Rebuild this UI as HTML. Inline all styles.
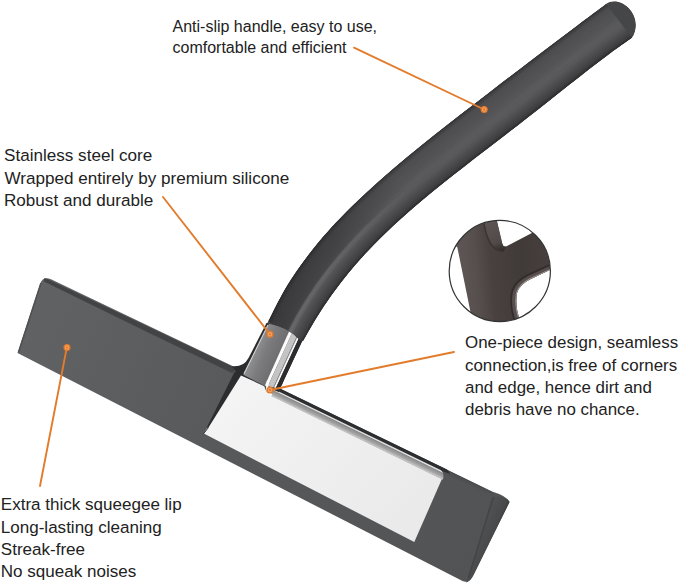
<!DOCTYPE html>
<html><head><meta charset="utf-8"><title>Squeegee</title>
<style>
html,body{margin:0;padding:0;background:#fff;}
body{width:679px;height:584px;overflow:hidden;}
svg{display:block}
text{font-family:"Liberation Sans",Arial,Helvetica,sans-serif;fill:#222;}
</style></head><body>
<svg width="679" height="584" viewBox="0 0 679 584">
<defs>
<linearGradient id="hg" gradientUnits="userSpaceOnUse" x1="470" y1="100" x2="505" y2="144">
<stop offset="0" stop-color="#3a3b3d"/><stop offset="0.35" stop-color="#4c4d4f"/><stop offset="0.7" stop-color="#454648"/><stop offset="1" stop-color="#353638"/>
</linearGradient>
<linearGradient id="plate" gradientUnits="userSpaceOnUse" x1="240" y1="380" x2="420" y2="540">
<stop offset="0" stop-color="#f4f4f4"/><stop offset="1" stop-color="#e9e9e9"/>
</linearGradient>
<linearGradient id="chrome" gradientUnits="userSpaceOnUse" x1="330" y1="416.4" x2="326.3" y2="424">
<stop offset="0" stop-color="#d9d9d9"/><stop offset="0.1" stop-color="#e4e4e4"/><stop offset="0.2" stop-color="#8a8a8a"/><stop offset="0.6" stop-color="#a6a6a6"/><stop offset="0.82" stop-color="#c6c6c6"/><stop offset="0.92" stop-color="#b0b0b0"/><stop offset="1" stop-color="#ececec"/>
</linearGradient>
<linearGradient id="core" gradientUnits="userSpaceOnUse" x1="250" y1="345" x2="280" y2="358">
<stop offset="0" stop-color="#9c9c9e"/><stop offset="0.5" stop-color="#7c7c7e"/><stop offset="1" stop-color="#6c6c6e"/>
</linearGradient>
<linearGradient id="rg" gradientUnits="userSpaceOnUse" x1="290" y1="330" x2="420" y2="180">
<stop offset="0" stop-color="#6a6b6d" stop-opacity="1"/><stop offset="0.6" stop-color="#646567" stop-opacity="0.8"/><stop offset="1" stop-color="#5a5b5d" stop-opacity="0"/>
</linearGradient>
<linearGradient id="shd" gradientUnits="userSpaceOnUse" x1="285" y1="320" x2="400" y2="180">
<stop offset="0" stop-color="#1c1c1e" stop-opacity="0.4"/><stop offset="0.5" stop-color="#1c1c1e" stop-opacity="0.28"/><stop offset="1" stop-color="#1c1c1e" stop-opacity="0"/>
</linearGradient>
<filter id="b1" x="-20%" y="-20%" width="140%" height="140%"><feGaussianBlur stdDeviation="0.8"/></filter>
<linearGradient id="ins" gradientUnits="userSpaceOnUse" x1="455" y1="270" x2="550" y2="262">
<stop offset="0" stop-color="#5f5856"/><stop offset="0.22" stop-color="#574f4d"/><stop offset="0.38" stop-color="#48413f"/><stop offset="0.7" stop-color="#403a38"/><stop offset="1" stop-color="#463f3e"/>
</linearGradient>
<linearGradient id="nb" gradientUnits="userSpaceOnUse" x1="490" y1="220" x2="500" y2="252">
<stop offset="0" stop-color="#5c5553"/><stop offset="0.7" stop-color="#514a48"/><stop offset="1" stop-color="#2f2928"/>
</linearGradient>
<clipPath id="bodyc"><path d="M457.3,247.2 L440,232 L470,208 L496,212 L497.2,222 L502.3,243.5 Q503.3,247.6 506.5,246.2 L530,234 L548,224.5 L562,240 L562,264.5 L550.3,269.8 L529.8,279.4 Q520,284.5 517.3,292 Q515.3,300 517.3,311 L521,326 L472,328 L470.8,313.6 Z"/></clipPath>
<filter id="b05" x="-20%" y="-20%" width="140%" height="140%"><feGaussianBlur stdDeviation="0.6"/></filter>
<linearGradient id="tr" gradientUnits="userSpaceOnUse" x1="470" y1="478.7" x2="467" y2="485.2">
<stop offset="0" stop-color="#3f4042"/><stop offset="0.5" stop-color="#4d4e50"/><stop offset="1" stop-color="#535456"/>
</linearGradient>
<linearGradient id="bl" gradientUnits="userSpaceOnUse" x1="20" y1="320" x2="490" y2="540">
<stop offset="0" stop-color="#616263"/><stop offset="0.45" stop-color="#58595b"/><stop offset="1" stop-color="#525355"/>
</linearGradient>
<linearGradient id="fc" gradientUnits="userSpaceOnUse" x1="482" y1="535" x2="494" y2="540">
<stop offset="0" stop-color="#4e4f51"/><stop offset="0.75" stop-color="#48494b"/><stop offset="1" stop-color="#38393b"/>
</linearGradient>
<clipPath id="blc"><path d="M51,279.3 L260,379.1 L492.0,491.5 Q507,496 509.5,502 L473.5,575 Q469,584 462.5,581 L17.5,353 L40.2,284 Q42.5,275.8 51,279.3 Z"/></clipPath>
<clipPath id="cc"><circle cx="499.8" cy="271" r="50.5"/></clipPath>
</defs>
<rect width="679" height="584" fill="#fff"/>
<!-- blade -->
<path d="M51,279.3 L260,379.1 L492.0,491.5 Q507,496 509.5,502 L473.5,575 Q469,584 462.5,581 L17.5,353 L40.2,284 Q42.5,275.8 51,279.3 Z" fill="url(#bl)"/>
<path d="M41,283 L18.5,352.5" stroke="#505153" stroke-width="1.6" fill="none"/>
<!-- top strip left -->
<path d="M44,277.5 L237,368.7 L232,373 L140,328.6 L44,281.5 Z" fill="#424345" clip-path="url(#blc)"/>
<!-- right end facet -->
<path d="M493,496.5 Q507,496 509.5,502 L473.5,575 Q470,582 466,582.5 Z" fill="url(#fc)"/>
<path d="M493.2,497 L468.5,578" stroke="#434446" stroke-width="1.4" fill="none"/>
<!-- dark strip right of handle -->
<path d="M440,466.5 L492,491.7 L494,497.5 L440,473.0 Z" fill="url(#tr)"/>
<path d="M279.5,388.2 L447,469.4 L450,473.8 L443,471.5 L279.5,392.3 Z" fill="#2d2e30"/>
<!-- plate -->
<path d="M240.2,375 L264.4,385.5 Q264.6,390.5 269.6,394.7 L440.7,478.2 L442,478.8 L414.3,542 L203.8,433.6 Z" fill="url(#plate)"/>
<!-- chrome strip along blade -->
<path d="M270,387.3 L441,470.2 Q444.8,473.4 442.8,479.7 L269.6,395.2 Z" fill="url(#chrome)"/>
<!-- crease -->
<path d="M233.3,374.5 Q234.5,370.5 238,371.5 L241,375.6 L208.5,427.5 L206.5,428 Z" fill="#2c2d2f"/>
<path d="M208.5,427.5 L203.2,434.2" stroke="#3a3b3d" stroke-width="1" fill="none"/>
<!-- joint backing (dark walls) -->
<path d="M266.5,323 L248.5,358 Q243.5,367.5 232,366.2 L238,374 L266,387 L279.5,392.3 L279.5,388.2 Q282.5,385 284.0,380 L302.2,341 L303.1,341.3 L290,320 Z" fill="#2b2c2e"/>
<!-- gray core -->
<path d="M272.3,317 L296,328 L266.5,387 L243.3,374.8 Z" fill="url(#core)"/>
<path d="M268,325 L244,373.8" stroke="#d4d4d4" stroke-width="1.1" fill="none"/>
<!-- chrome band on handle: stripes -->
<path d="M293.3,322.0 L296.9,322.0 L267.9,386.2 L264.9,385.5 Z" fill="#fcfcfc"/>
<path d="M296.9,322.0 L303.4,322.0 L273.4,387.5 L267.9,386.2 Z" fill="#c4c4c4"/>
<path d="M303.4,322.0 L304.2,322.0 L274.0,387.6 L273.4,387.5 Z" fill="#9a9a9a"/>
<path d="M304.2,322.0 L306.4,322.0 L275.9,388.1 L274.0,387.6 Z" fill="#f7f7f7"/>
<path d="M306.4,322.0 L311.1,322.0 L279.8,389.0 L275.9,388.1 Z" fill="#2b2c2e"/>
<path d="M268.2,381 Q265,390.5 271.5,395.6" stroke="#fbfbfb" stroke-width="2.6" fill="none"/>
<!-- handle sleeve -->
<clipPath id="sl"><path d="M268.2,321.2 C271.1,315.6 279.4,298.4 285.7,287.7 C292.1,277.1 299.0,267.1 306.3,257.5 C313.5,247.8 321.2,238.7 329.2,229.8 C337.1,220.9 345.5,212.4 354.0,204.1 C362.5,195.8 371.2,187.8 380.1,179.9 C389.0,172.0 398.1,164.4 407.3,156.7 C416.4,149.1 425.7,141.7 435.1,134.3 C444.4,126.9 453.8,119.5 463.2,112.2 C472.7,104.9 482.1,97.7 491.6,90.4 C501.1,83.1 510.6,75.9 520.1,68.7 C529.6,61.4 539.1,54.2 548.6,47.0 C558.1,39.8 567.6,32.5 577.2,25.4 C586.8,18.2 601.2,7.5 606.0,4.0 C620,-6 645,15 632.2,37.8 C628.6,40.4 617.6,48.0 610.5,53.2 C603.4,58.4 596.4,63.8 589.4,69.2 C582.4,74.6 575.6,80.1 568.6,85.5 C561.7,91.0 554.8,96.4 547.9,101.9 C541.0,107.4 534.1,112.8 527.1,118.2 C520.2,123.6 513.2,129.0 506.2,134.4 C499.3,139.8 492.3,145.2 485.3,150.6 C478.3,156.0 471.3,161.3 464.4,166.8 C457.4,172.2 450.5,177.6 443.6,183.1 C436.7,188.6 429.9,194.1 423.1,199.8 C416.4,205.4 409.7,211.1 403.2,217.0 C396.6,222.8 390.2,228.8 383.9,234.9 C377.6,241.1 371.5,247.3 365.5,253.8 C359.5,260.3 353.7,266.9 348.1,273.8 C342.5,280.6 337.1,287.7 331.9,295.0 C326.7,302.3 321.7,309.8 316.9,317.5 C312.1,325.2 305.4,337.4 303.1,341.3 L300,340.5 Q288,326.5 268.5,324 Q266.5,323.5 268.2,321.2 Z"/></clipPath>
<g clip-path="url(#sl)">
<path d="M268.2,321.2 C271.1,315.6 279.4,298.4 285.7,287.7 C292.1,277.1 299.0,267.1 306.3,257.5 C313.5,247.8 321.2,238.7 329.2,229.8 C337.1,220.9 345.5,212.4 354.0,204.1 C362.5,195.8 371.2,187.8 380.1,179.9 C389.0,172.0 398.1,164.4 407.3,156.7 C416.4,149.1 425.7,141.7 435.1,134.3 C444.4,126.9 453.8,119.5 463.2,112.2 C472.7,104.9 482.1,97.7 491.6,90.4 C501.1,83.1 510.6,75.9 520.1,68.7 C529.6,61.4 539.1,54.2 548.6,47.0 C558.1,39.8 567.6,32.5 577.2,25.4 C586.8,18.2 601.2,7.5 606.0,4.0 C620,-6 645,15 632.2,37.8 C628.6,40.4 617.6,48.0 610.5,53.2 C603.4,58.4 596.4,63.8 589.4,69.2 C582.4,74.6 575.6,80.1 568.6,85.5 C561.7,91.0 554.8,96.4 547.9,101.9 C541.0,107.4 534.1,112.8 527.1,118.2 C520.2,123.6 513.2,129.0 506.2,134.4 C499.3,139.8 492.3,145.2 485.3,150.6 C478.3,156.0 471.3,161.3 464.4,166.8 C457.4,172.2 450.5,177.6 443.6,183.1 C436.7,188.6 429.9,194.1 423.1,199.8 C416.4,205.4 409.7,211.1 403.2,217.0 C396.6,222.8 390.2,228.8 383.9,234.9 C377.6,241.1 371.5,247.3 365.5,253.8 C359.5,260.3 353.7,266.9 348.1,273.8 C342.5,280.6 337.1,287.7 331.9,295.0 C326.7,302.3 321.7,309.8 316.9,317.5 C312.1,325.2 305.4,337.4 303.1,341.3 L300,340.5 Q288,326.5 268.5,324 Q266.5,323.5 268.2,321.2 Z" fill="#454648"/>
<path d="M268.2,321.2 L276.9,303.4 L286.5,286.5 L296.9,270.5 L308.0,255.2 L319.8,240.6 L332.1,226.6 L344.9,213.2 L358.1,200.2 L371.6,187.5 L385.5,175.2 L399.6,163.1 L413.9,151.3 L428.3,139.6 L442.9,128.1 L457.6,116.6 L472.3,105.2 L487.1,93.9 L501.9,82.6 L516.7,71.3 L531.5,60.0 L546.3,48.7 L561.2,37.5 L576.1,26.2 L591.0,15.1 L606.0,4.0 L607.3,5.7 L592.3,16.7 L577.4,27.9 L562.5,39.1 L547.7,50.3 L532.9,61.6 L518.1,72.9 L503.4,84.2 L488.6,95.5 L473.9,106.8 L459.2,118.2 L444.5,129.6 L430.0,141.1 L415.5,152.8 L401.3,164.6 L387.2,176.6 L373.3,188.9 L359.8,201.5 L346.6,214.5 L333.8,227.9 L321.5,241.9 L309.8,256.4 L298.7,271.6 L288.3,287.6 L278.7,304.4 L270.0,322.2Z" fill="#38383a"/>
<path d="M269.8,322.1 L278.5,304.4 L288.1,287.5 L298.5,271.5 L309.6,256.3 L321.4,241.8 L333.7,227.8 L346.5,214.4 L359.6,201.4 L373.2,188.8 L387.0,176.5 L401.1,164.5 L415.4,152.6 L429.8,141.0 L444.4,129.5 L459.0,118.0 L473.7,106.7 L488.5,95.3 L503.2,84.0 L518.0,72.7 L532.8,61.5 L547.6,50.2 L562.4,39.0 L577.3,27.7 L592.2,16.6 L607.2,5.5 L608.6,7.4 L593.6,18.4 L578.7,29.5 L563.9,40.7 L549.1,51.9 L534.4,63.2 L519.6,74.5 L504.9,85.7 L490.1,97.0 L475.4,108.3 L460.8,119.7 L446.1,131.1 L431.6,142.6 L417.2,154.2 L402.9,166.0 L388.8,178.0 L375.0,190.3 L361.5,202.8 L348.3,215.8 L335.6,229.2 L323.3,243.1 L311.6,257.6 L300.5,272.8 L290.1,288.8 L280.4,305.5 L271.7,323.2Z" fill="#434345"/>
<path d="M271.6,323.2 L280.3,305.4 L289.9,288.7 L300.3,272.7 L311.4,257.5 L323.1,243.0 L335.4,229.1 L348.2,215.7 L361.4,202.7 L374.9,190.2 L388.7,177.9 L402.8,165.9 L417.1,154.1 L431.5,142.5 L446.0,131.0 L460.6,119.6 L475.3,108.2 L490.0,96.9 L504.8,85.6 L519.5,74.3 L534.3,63.1 L549.0,51.8 L563.8,40.6 L578.6,29.4 L593.5,18.3 L608.5,7.2 L609.9,9.1 L594.9,20.0 L580.1,31.1 L565.3,42.3 L550.5,53.5 L535.8,64.8 L521.1,76.1 L506.4,87.3 L491.7,98.6 L477.0,109.9 L462.4,121.2 L447.8,132.6 L433.2,144.1 L418.8,155.7 L404.6,167.4 L390.5,179.4 L376.7,191.6 L363.2,204.2 L350.0,217.1 L337.3,230.5 L325.0,244.4 L313.3,258.9 L302.2,274.0 L291.8,289.9 L282.2,306.6 L273.4,324.2Z" fill="#4d4d4f"/>
<path d="M273.3,324.2 L282.1,306.5 L291.7,289.8 L302.1,273.9 L313.2,258.8 L324.9,244.3 L337.2,230.4 L349.9,217.0 L363.1,204.1 L376.6,191.5 L390.4,179.3 L404.5,167.3 L418.7,155.6 L433.1,144.0 L447.6,132.5 L462.2,121.1 L476.9,109.8 L491.6,98.5 L506.3,87.2 L521.0,75.9 L535.7,64.7 L550.4,53.4 L565.2,42.2 L580.0,31.0 L594.8,19.9 L609.8,8.9 L611.2,10.7 L596.3,21.7 L581.4,32.8 L566.7,43.9 L551.9,55.2 L537.3,66.4 L522.6,77.7 L507.9,88.9 L493.2,100.2 L478.6,111.5 L464.0,122.8 L449.4,134.1 L434.9,145.6 L420.5,157.1 L406.3,168.9 L392.2,180.8 L378.4,193.0 L364.9,205.5 L351.8,218.4 L339.0,231.8 L326.8,245.6 L315.1,260.1 L304.0,275.2 L293.6,291.0 L284.0,307.7 L275.2,325.2Z" fill="#4f4f51"/>
<path d="M275.0,325.2 L283.8,307.6 L293.5,290.9 L303.9,275.1 L315.0,260.0 L326.7,245.5 L338.9,231.7 L351.6,218.3 L364.8,205.4 L378.3,192.9 L392.1,180.7 L406.1,168.7 L420.4,157.0 L434.7,145.4 L449.2,134.0 L463.8,122.6 L478.5,111.3 L493.1,100.1 L507.8,88.8 L522.5,77.5 L537.1,66.3 L551.8,55.0 L566.5,43.8 L581.3,32.6 L596.2,21.6 L611.1,10.6 L612.5,12.4 L597.6,23.4 L582.8,34.4 L568.0,45.6 L553.3,56.8 L538.7,68.0 L524.1,79.3 L509.4,90.5 L494.8,101.8 L480.2,113.0 L465.6,124.3 L451.0,135.6 L436.5,147.1 L422.1,158.6 L407.9,170.3 L393.9,182.2 L380.1,194.4 L366.6,206.9 L353.5,219.7 L340.8,233.0 L328.6,246.9 L316.9,261.3 L305.8,276.4 L295.4,292.2 L285.8,308.8 L276.9,326.2Z" fill="#505052"/>
<path d="M276.8,326.2 L285.6,308.7 L295.3,292.1 L305.7,276.3 L316.7,261.2 L328.4,246.8 L340.7,232.9 L353.4,219.6 L366.5,206.7 L380.0,194.3 L393.8,182.1 L407.8,170.2 L422.0,158.5 L436.4,146.9 L450.9,135.5 L465.4,124.2 L480.0,112.9 L494.7,101.6 L509.3,90.4 L523.9,79.1 L538.6,67.9 L553.2,56.6 L567.9,45.4 L582.6,34.3 L597.5,23.2 L612.4,12.3 L613.8,14.1 L598.9,25.0 L584.1,36.0 L569.4,47.2 L554.8,58.4 L540.1,69.6 L525.5,80.8 L510.9,92.1 L496.3,103.3 L481.7,114.6 L467.1,125.8 L452.6,137.2 L438.1,148.5 L423.8,160.0 L409.6,171.7 L395.6,183.6 L381.8,195.7 L368.3,208.2 L355.2,221.0 L342.5,234.3 L330.3,248.1 L318.6,262.5 L307.6,277.5 L297.2,293.3 L287.5,309.8 L278.7,327.3Z" fill="#525254"/>
<path d="M278.5,327.2 L287.4,309.8 L297.0,293.2 L307.4,277.5 L318.5,262.4 L330.2,248.0 L342.4,234.2 L355.1,220.9 L368.2,208.1 L381.7,195.6 L395.4,183.5 L409.4,171.6 L423.7,159.9 L438.0,148.4 L452.5,137.0 L467.0,125.7 L481.6,114.4 L496.2,103.2 L510.8,92.0 L525.4,80.7 L540.0,69.5 L554.6,58.2 L569.3,47.0 L584.0,35.9 L598.8,24.9 L613.7,14.0 L615.2,15.8 L600.2,26.7 L585.4,37.7 L570.8,48.8 L556.2,60.0 L541.6,71.2 L527.0,82.4 L512.4,93.7 L497.9,104.9 L483.3,116.1 L468.7,127.4 L454.2,138.7 L439.8,150.0 L425.4,161.5 L411.2,173.1 L397.3,185.0 L383.5,197.1 L370.0,209.5 L357.0,222.3 L344.3,235.6 L332.1,249.4 L320.4,263.7 L309.4,278.7 L299.0,294.4 L289.3,310.9 L280.4,328.3Z" fill="#535355"/>
<path d="M280.3,328.2 L289.2,310.8 L298.8,294.3 L309.2,278.6 L320.3,263.6 L331.9,249.3 L344.1,235.5 L356.8,222.2 L369.9,209.4 L383.4,197.0 L397.1,184.9 L411.1,173.0 L425.3,161.4 L439.6,149.9 L454.1,138.5 L468.6,127.3 L483.2,116.0 L497.7,104.8 L512.3,93.6 L526.9,82.3 L541.5,71.1 L556.0,59.9 L570.7,48.7 L585.3,37.5 L600.1,26.5 L615.1,15.7 L616.5,17.5 L601.5,28.3 L586.8,39.3 L572.1,50.4 L557.6,61.6 L543.0,72.8 L528.5,84.0 L514.0,95.3 L499.4,106.5 L484.9,117.7 L470.3,128.9 L455.8,140.2 L441.4,151.5 L427.1,163.0 L412.9,174.6 L398.9,186.4 L385.2,198.5 L371.8,210.9 L358.7,223.7 L346.0,236.9 L333.8,250.6 L322.2,264.9 L311.1,279.9 L300.8,295.6 L291.1,312.0 L282.2,329.3Z" fill="#545456"/>
<path d="M282.0,329.2 L290.9,311.9 L300.6,295.5 L311.0,279.8 L322.0,264.9 L333.7,250.5 L345.9,236.8 L358.5,223.5 L371.6,210.8 L385.1,198.4 L398.8,186.3 L412.8,174.5 L427.0,162.8 L441.3,151.4 L455.7,140.1 L470.2,128.8 L484.7,117.6 L499.3,106.4 L513.8,95.1 L528.4,83.9 L542.9,72.7 L557.5,61.5 L572.0,50.3 L586.7,39.2 L601.4,28.2 L616.4,17.4 L617.8,19.2 L602.9,30.0 L588.1,40.9 L573.5,52.0 L559.0,63.2 L544.5,74.4 L530.0,85.6 L515.5,96.9 L501.0,108.1 L486.4,119.2 L471.9,130.5 L457.5,141.7 L443.0,153.0 L428.7,164.4 L414.6,176.0 L400.6,187.8 L386.9,199.8 L373.5,212.2 L360.4,225.0 L347.8,238.2 L335.6,251.9 L324.0,266.2 L312.9,281.1 L302.5,296.7 L292.8,313.1 L283.9,330.3Z" fill="#565658"/>
<path d="M283.8,330.2 L292.7,313.0 L302.4,296.6 L312.8,281.0 L323.8,266.1 L335.5,251.8 L347.6,238.1 L360.3,224.9 L373.3,212.1 L386.8,199.7 L400.5,187.7 L414.4,175.9 L428.6,164.3 L442.9,152.9 L457.3,141.6 L471.8,130.3 L486.3,119.1 L500.8,107.9 L515.4,96.7 L529.9,85.5 L544.4,74.3 L558.9,63.1 L573.4,51.9 L588.0,40.8 L602.7,29.8 L617.7,19.1 L619.1,20.9 L604.2,31.6 L589.5,42.6 L574.9,53.7 L560.4,64.8 L545.9,76.0 L531.5,87.2 L517.0,98.4 L502.5,109.6 L488.0,120.8 L473.5,132.0 L459.1,143.2 L444.7,154.5 L430.4,165.9 L416.2,177.4 L402.3,189.2 L388.6,201.2 L375.2,213.5 L362.1,226.3 L349.5,239.4 L337.4,253.1 L325.7,267.4 L314.7,282.3 L304.3,297.9 L294.6,314.2 L285.7,331.3Z" fill="#58585a"/>
<path d="M285.5,331.2 L294.5,314.1 L304.2,297.8 L314.6,282.2 L325.6,267.3 L337.2,253.0 L349.4,239.3 L362.0,226.2 L375.0,213.4 L388.4,201.1 L402.2,189.1 L416.1,177.3 L430.3,165.8 L444.6,154.4 L458.9,143.1 L473.4,131.9 L487.9,120.7 L502.4,109.5 L516.9,98.3 L531.3,87.1 L545.8,75.9 L560.3,64.7 L574.8,53.5 L589.4,42.4 L604.1,31.5 L619.0,20.8 L620.4,22.6 L605.5,33.3 L590.8,44.2 L576.3,55.3 L561.8,66.4 L547.4,77.6 L532.9,88.8 L518.5,100.0 L504.1,111.2 L489.6,122.4 L475.1,133.5 L460.7,144.7 L446.3,156.0 L432.0,167.3 L417.9,178.9 L404.0,190.6 L390.3,202.6 L376.9,214.9 L363.9,227.6 L351.2,240.7 L339.1,254.4 L327.5,268.6 L316.5,283.5 L306.1,299.0 L296.4,315.2 L287.4,332.3Z" fill="#5b5b5d"/>
<path d="M287.3,332.2 L296.2,315.2 L306.0,298.9 L316.3,283.4 L327.4,268.5 L339.0,254.3 L351.1,240.6 L363.7,227.5 L376.8,214.8 L390.1,202.5 L403.8,190.5 L417.8,178.7 L431.9,167.2 L446.2,155.9 L460.6,144.6 L475.0,133.4 L489.5,122.2 L503.9,111.1 L518.4,99.9 L532.8,88.7 L547.2,77.5 L561.7,66.3 L576.1,55.1 L590.7,44.1 L605.4,33.2 L620.3,22.5 L621.7,24.3 L606.8,34.9 L592.1,45.8 L577.6,56.9 L563.2,68.0 L548.8,79.2 L534.4,90.4 L520.0,101.6 L505.6,112.8 L491.2,123.9 L476.7,135.1 L462.3,146.2 L448.0,157.5 L433.7,168.8 L419.6,180.3 L405.7,192.0 L392.0,203.9 L378.6,216.2 L365.6,228.9 L353.0,242.0 L340.9,255.6 L329.3,269.8 L318.3,284.6 L307.9,300.1 L298.2,316.3 L289.1,333.3Z" fill="#5b5b5d"/>
<path d="M289.0,333.2 L298.0,316.2 L307.7,300.0 L318.1,284.5 L329.1,269.7 L340.7,255.5 L352.9,241.9 L365.5,228.8 L378.5,216.1 L391.8,203.8 L405.5,191.9 L419.4,180.2 L433.6,168.7 L447.8,157.3 L462.2,146.1 L476.6,134.9 L491.0,123.8 L505.5,112.6 L519.9,101.5 L534.3,90.3 L548.7,79.1 L563.1,67.9 L577.5,56.8 L592.0,45.7 L606.7,34.8 L621.6,24.2 L623.0,26.0 L608.1,36.6 L593.5,47.5 L579.0,58.5 L564.6,69.7 L550.2,80.8 L535.9,92.0 L521.5,103.2 L507.1,114.4 L492.7,125.5 L478.3,136.6 L463.9,147.7 L449.6,158.9 L435.3,170.3 L421.2,181.7 L407.3,193.4 L393.7,205.3 L380.3,217.6 L367.3,230.2 L354.7,243.3 L342.6,256.9 L331.1,271.0 L320.0,285.8 L309.7,301.3 L299.9,317.4 L290.9,334.3Z" fill="#5a5a5c"/>
<path d="M290.7,334.2 L299.8,317.3 L309.5,301.2 L319.9,285.7 L330.9,270.9 L342.5,256.8 L354.6,243.2 L367.2,230.1 L380.2,217.4 L393.5,205.2 L407.2,193.3 L421.1,181.6 L435.2,170.1 L449.5,158.8 L463.8,147.6 L478.2,136.5 L492.6,125.4 L507.0,114.2 L521.4,103.1 L535.8,91.9 L550.1,80.7 L564.5,69.5 L578.9,58.4 L593.4,47.3 L608.0,36.5 L622.9,25.9 L624.3,27.7 L609.4,38.3 L594.8,49.1 L580.4,60.1 L566.0,71.3 L551.7,82.4 L537.4,93.6 L523.0,104.8 L508.7,115.9 L494.3,127.0 L479.9,138.1 L465.5,149.3 L451.2,160.4 L437.0,171.7 L422.9,183.1 L409.0,194.8 L395.4,206.7 L382.0,218.9 L369.0,231.5 L356.5,244.6 L344.4,258.1 L332.8,272.3 L321.8,287.0 L311.4,302.4 L301.7,318.5 L292.6,335.3Z" fill="#58585a"/>
<path d="M292.5,335.2 L301.6,318.4 L311.3,302.3 L321.7,286.9 L332.7,272.2 L344.2,258.0 L356.3,244.5 L368.9,231.4 L381.9,218.8 L395.2,206.6 L408.9,194.7 L422.8,183.0 L436.9,171.6 L451.1,160.3 L465.4,149.1 L479.8,138.0 L494.2,126.9 L508.6,115.8 L522.9,104.7 L537.3,93.5 L551.6,82.3 L565.9,71.1 L580.3,60.0 L594.7,49.0 L609.3,38.1 L624.2,27.5 L625.6,29.4 L610.8,39.9 L596.2,50.7 L581.7,61.7 L567.4,72.9 L553.1,84.0 L538.9,95.2 L524.6,106.4 L510.2,117.5 L495.9,128.6 L481.5,139.7 L467.2,150.8 L452.9,161.9 L438.6,173.2 L424.6,184.6 L410.7,196.2 L397.1,208.0 L383.7,220.2 L370.8,232.8 L358.2,245.8 L346.1,259.4 L334.6,273.5 L323.6,288.2 L313.2,303.5 L303.5,319.6 L294.4,336.3Z" fill="#535355"/>
<path d="M294.2,336.2 L303.3,319.5 L313.1,303.4 L323.5,288.1 L334.5,273.4 L346.0,259.3 L358.1,245.7 L370.6,232.7 L383.6,220.1 L396.9,207.9 L410.6,196.1 L424.4,184.5 L438.5,173.1 L452.7,161.8 L467.0,150.7 L481.4,139.6 L495.7,128.5 L510.1,117.4 L524.4,106.3 L538.7,95.1 L553.0,83.9 L567.3,72.7 L581.6,61.6 L596.1,50.6 L610.7,39.8 L625.5,29.2 L627.0,31.1 L612.1,41.6 L597.5,52.4 L583.1,63.4 L568.8,74.5 L554.6,85.6 L540.3,96.8 L526.1,108.0 L511.8,119.1 L497.4,130.2 L483.1,141.2 L468.8,152.3 L454.5,163.4 L440.3,174.6 L426.2,186.0 L412.4,197.6 L398.8,209.4 L385.4,221.6 L372.5,234.1 L360.0,247.1 L347.9,260.6 L336.4,274.7 L325.4,289.4 L315.0,304.7 L305.3,320.7 L296.1,337.3Z" fill="#4e4e50"/>
<path d="M296.0,337.2 L305.1,320.6 L314.9,304.6 L325.3,289.3 L336.2,274.6 L347.8,260.5 L359.8,247.0 L372.4,234.0 L385.3,221.5 L398.6,209.3 L412.2,197.5 L426.1,185.9 L440.2,174.5 L454.4,163.3 L468.6,152.2 L483.0,141.1 L497.3,130.0 L511.6,118.9 L525.9,107.8 L540.2,96.7 L554.5,85.5 L568.7,74.4 L583.0,63.2 L597.4,52.2 L612.0,41.4 L626.9,30.9 L628.3,32.8 L613.4,43.2 L598.8,54.0 L584.5,65.0 L570.2,76.1 L556.0,87.3 L541.8,98.4 L527.6,109.6 L513.3,120.6 L499.0,131.7 L484.7,142.7 L470.4,153.8 L456.1,164.9 L441.9,176.1 L427.9,187.4 L414.1,199.0 L400.5,210.8 L387.2,222.9 L374.2,235.4 L361.7,248.4 L349.7,261.9 L338.1,275.9 L327.2,290.6 L316.8,305.8 L307.0,321.7 L297.9,338.3Z" fill="#49494b"/>
<path d="M297.7,338.2 L306.9,321.6 L316.7,305.7 L327.0,290.5 L338.0,275.8 L349.5,261.8 L361.6,248.3 L374.1,235.3 L387.0,222.8 L400.3,210.7 L413.9,198.9 L427.8,187.3 L441.8,176.0 L456.0,164.8 L470.3,153.7 L484.6,142.6 L498.9,131.6 L513.2,120.5 L527.5,109.4 L541.7,98.3 L555.9,87.1 L570.1,76.0 L584.4,64.9 L598.7,53.9 L613.3,43.1 L628.2,32.6 L629.6,34.5 L614.7,44.9 L600.2,55.6 L585.8,66.6 L571.6,77.7 L557.5,88.9 L543.3,100.0 L529.1,111.1 L514.9,122.2 L500.6,133.3 L486.3,144.3 L472.0,155.3 L457.8,166.4 L443.6,177.5 L429.6,188.8 L415.7,200.4 L402.1,212.1 L388.9,224.2 L376.0,236.7 L363.5,249.7 L351.4,263.1 L339.9,277.1 L329.0,291.7 L318.6,307.0 L308.8,322.8 L299.6,339.3Z" fill="#444446"/>
<path d="M299.5,339.2 L308.7,322.7 L318.4,306.9 L328.8,291.6 L339.8,277.0 L351.3,263.0 L363.3,249.6 L375.8,236.6 L388.7,224.1 L402.0,212.0 L415.6,200.2 L429.4,188.7 L443.5,177.4 L457.6,166.3 L471.9,155.2 L486.2,144.2 L500.5,133.1 L514.7,122.1 L529.0,111.0 L543.2,99.9 L557.3,88.7 L571.5,77.6 L585.7,66.5 L600.1,55.5 L614.6,44.7 L629.5,34.3 L630.9,36.2 L616.0,46.5 L601.5,57.3 L587.2,68.2 L573.0,79.3 L558.9,90.5 L544.8,101.6 L530.6,112.7 L516.4,123.8 L502.2,134.8 L487.9,145.8 L473.6,156.8 L459.4,167.9 L445.2,179.0 L431.2,190.3 L417.4,201.8 L403.8,213.5 L390.6,225.6 L377.7,238.0 L365.2,251.0 L353.2,264.4 L341.7,278.4 L330.7,292.9 L320.4,308.1 L310.6,323.9 L301.4,340.3Z" fill="#3e3e40"/>
<path d="M301.2,340.2 L310.4,323.8 L320.2,308.0 L330.6,292.8 L341.5,278.3 L353.0,264.3 L365.1,250.9 L377.5,237.9 L390.4,225.5 L403.7,213.4 L417.3,201.6 L431.1,190.2 L445.1,178.9 L459.3,167.7 L473.5,156.7 L487.8,145.7 L502.0,134.7 L516.3,123.7 L530.5,112.6 L544.7,101.5 L558.8,90.3 L572.9,79.2 L587.1,68.1 L601.4,57.1 L615.9,46.4 L630.8,36.0 L632.2,37.8 L617.4,48.2 L602.9,58.9 L588.6,69.8 L574.4,80.9 L560.3,92.1 L546.2,103.2 L532.1,114.3 L518.0,125.4 L503.7,136.4 L489.5,147.4 L475.2,158.3 L461.0,169.4 L446.9,180.5 L432.9,191.7 L419.1,203.2 L405.5,214.9 L392.3,226.9 L379.4,239.4 L366.9,252.2 L354.9,265.6 L343.5,279.6 L332.5,294.1 L322.1,309.2 L312.3,325.0 L303.1,341.3Z" fill="#323234"/>
<path d="M268.2,321.2 L276.9,303.4 L286.5,286.5 L296.9,270.5 L308.0,255.2 L319.8,240.6 L332.1,226.6 L344.9,213.2 L358.1,200.2 L371.6,187.5 L385.5,175.2 L399.6,163.1 L413.9,151.3 L432.0,167.3 L417.9,178.9 L404.0,190.6 L390.3,202.6 L376.9,214.9 L363.9,227.6 L351.2,240.7 L339.1,254.4 L327.5,268.6 L316.5,283.5 L306.1,299.0 L296.4,315.2 L287.4,332.3Z" fill="url(#shd)"/>
<path d="M289.5,333.5 L298.5,316.5 L308.2,300.4 L318.6,284.9 L329.6,270.1 L341.2,255.9 L353.3,242.3 L365.9,229.1 L378.9,216.5 L392.3,204.2 L406.0,192.3 L419.9,180.6" stroke="url(#rg)" stroke-width="3" fill="none" filter="url(#b1)"/>
<path d="M603.0,6.0 C620.0,-0.0 640.2,13.8 630.7,35.8 L645,40 L645,-8 L600,-8 Z" fill="#464648"/>
</g>
<!-- inset circle -->
<g clip-path="url(#cc)">
<rect x="440" y="215" width="120" height="115" fill="#fff"/>
<path d="M457.3,247.2 L440,232 L470,208 L496,212 L497.2,222 L502.3,243.5 Q503.3,247.6 506.5,246.2 L530,234 L548,224.5 L562,240 L562,264.5 L550.3,269.8 L529.8,279.4 Q520,284.5 517.3,292 Q515.3,300 517.3,311 L521,326 L472,328 L470.8,313.6 Z" fill="url(#ins)"/>
<g clip-path="url(#bodyc)">
<!-- notch bevel -->
<path d="M483.6,222 L493,216 L497.2,222 L502.3,243.5 Q503.3,247.6 506.5,246.2 L503.5,251.5 Q497,252 493,246.5 Q487,236 485.5,228 Z" fill="url(#nb)"/>
<path d="M483.8,221 Q484.5,228 486.5,234.5 Q489.5,243.5 493.5,247.3 Q497.5,251.3 503.5,250.8" stroke="#3a3332" stroke-width="1.4" fill="none" opacity="0.9"/>
<!-- arm lower bevel -->
<path d="M553,268.6 L529.8,279.4 Q520,284.5 517.3,292 Q515.3,300 517.3,311 L521,326" stroke="#574f4d" stroke-width="10" fill="none"/>
<path d="M553,263.6 L527.3,275.4 Q515.5,281.5 512.3,291 Q510,300 512.3,312 L516,326" stroke="#2f2928" stroke-width="1.8" fill="none" opacity="0.85" filter="url(#b05)"/>
<path d="M553,268.6 L529.8,279.4 Q520,284.5 517.3,292 Q515.3,300 517.3,311 L521,326" stroke="#a39a97" stroke-width="2" fill="none" opacity="0.9"/>
</g>
</g>
<circle cx="499.8" cy="271" r="50.6" fill="none" stroke="#333" stroke-width="1.2"/>
<!-- callout lines -->
<g stroke="#e27c2c" stroke-width="1.9" fill="none" stroke-linecap="round">
<path d="M354,47.7 L484.2,109.5"/>
<path d="M163,197 L270,334.3"/>
<path d="M454,352 L270,390"/>
<path d="M66.8,347.5 L40,486"/>
</g>
<g fill="#f4a060" stroke="#e27a2b" stroke-width="1.3">
<circle cx="484.2" cy="109.5" r="2.9"/><circle cx="270" cy="334.3" r="2.9"/><circle cx="270" cy="390" r="2.9"/><circle cx="67" cy="347.6" r="2.9"/>
</g>
<g fill="#e0661c">
<circle cx="484.2" cy="109.5" r="0.9"/><circle cx="270" cy="334.3" r="0.9"/><circle cx="270" cy="390" r="0.9"/><circle cx="67" cy="347.6" r="0.9"/>
</g>
<!-- text -->
<g font-size="16">
<text x="172.5" y="32.1">Anti-slip handle, easy to use,</text>
<text x="172.5" y="52.7">comfortable and efficient</text>
</g>
<g font-size="17.1">
<text x="4" y="161">Stainless steel core</text>
<text x="4.5" y="183.5">Wrapped entirely by premium silicone</text>
<text x="4" y="205.8">Robust and durable</text>
</g>
<g font-size="16.9">
<text x="465" y="348.1">One-piece design, seamless</text>
<text x="465" y="370.5">connection,is free of corners</text>
<text x="465" y="393.3">and edge, hence dirt and</text>
<text x="465" y="414.7">debris have no chance.</text>
</g>
<g font-size="17.05">
<text x="0.8" y="510.2">Extra thick squeegee lip</text>
<text x="0.8" y="532.8">Long-lasting cleaning</text>
<text x="0.8" y="555">Streak-free</text>
<text x="0.8" y="577.1">No squeak noises</text>
</g>
</svg>
</body></html>
